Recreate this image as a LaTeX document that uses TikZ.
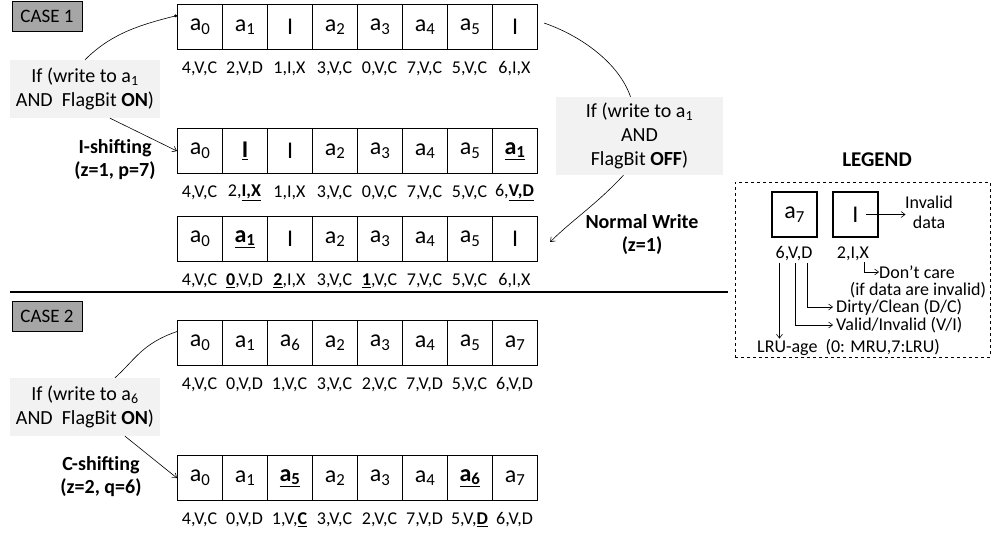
\documentclass[tikz,border=0pt]{standalone}
\usepackage{fontspec}
\setmainfont{Carlito}
\usetikzlibrary{arrows.meta,calc}
\newcommand\cellrow[3]{%
  \foreach \t [count=\i] in {#3} {
    \node[cell] (r#1c\i) at ({177+45*(\i-1)}, #2) {\t};
  }}
\newcommand\labrow[3]{%
  \foreach \t [count=\i] in {#3} {
    \node[lab] (l#1c\i) at ({199.5+45*(\i-1)}, #2) {\t};
  }}
\newcommand\ubf[1]{\underline{\textbf{#1}}}
\begin{document}
\begin{tikzpicture}[x=1pt,y=-1pt,
  cell/.style={draw, line width=1.1pt, minimum width=45pt, minimum height=45pt, inner sep=0pt,
    font=\fontsize{24}{24}\selectfont, anchor=north west},
  lab/.style={font=\fontsize{18}{20}\selectfont, inner sep=0pt},
  cond/.style={fill=black!5, align=center, font=\fontsize{20}{24}\selectfont, inner sep=0pt,
    minimum width=150pt, minimum height=58pt},
  bl/.style={font=\fontsize{20}{23}\selectfont\bfseries, align=center, inner sep=0pt},
  casebox/.style={draw, line width=0.8pt, fill=black!35, minimum width=70pt, minimum height=30pt,
    inner sep=0pt, font=\fontsize{19}{19}\selectfont},
  thinl/.style={line width=0.6pt},
  arr/.style={thinl, -{Straight Barb[length=4pt,width=6pt]}}
  ]
\useasboundingbox (0,0) rectangle (998,537);

% ---------- CASE 1 ----------
\node[casebox] (case1) at (47,16) {CASE 1};

\cellrow{1}{4}{{a\textsubscript{0}},{a\textsubscript{1}},I,{a\textsubscript{2}},{a\textsubscript{3}},{a\textsubscript{4}},{a\textsubscript{5}},I}
\labrow{1}{69}{{4,V,C},{2,V,D},{1,I,X},{3,V,C},{0,V,C},{7,V,C},{5,V,C},{6,I,X}}

\cellrow{2}{128}{{a\textsubscript{0}},{\ubf{I}},I,{a\textsubscript{2}},{a\textsubscript{3}},{a\textsubscript{4}},{a\textsubscript{5}},{\ubf{a\textsubscript{1}}}}
\labrow{2}{193}{{4,V,C},{2,\ubf{I,X}},{1,I,X},{3,V,C},{0,V,C},{7,V,C},{5,V,C},{6,\ubf{V,D}}}

\cellrow{3}{216}{{a\textsubscript{0}},{\ubf{a\textsubscript{1}}},I,{a\textsubscript{2}},{a\textsubscript{3}},{a\textsubscript{4}},{a\textsubscript{5}},I}
\labrow{3}{281}{{4,V,C},{\ubf{0},V,D},{\ubf{2},I,X},{3,V,C},{\ubf{1},V,C},{7,V,C},{5,V,C},{6,I,X}}

\node[cond] (cond1) at (85,89) {If (write to a\textsubscript{1}\\AND\ \ FlagBit \textbf{ON})};
\node[bl] (ishift) at (115,160) {I-shifting\\(z=1, p=7)};

\node[cond, minimum width=167pt, minimum height=78pt] (off) at (639.5,136)
  {If (write to a\textsubscript{1}\\AND\\FlagBit \textbf{OFF})};
\node[bl] (nwrite) at (642,234) {Normal Write\\(z=1)};

\draw[thinl, -{Circle[length=3pt]}] (cond1.north) .. controls +(25,-25) and +(-40,10) ..
  ($(r1c1.north west)!0.25!(r1c1.south west)$);
\draw[arr] ($(cond1.south)+(25,0)$) -- (r2c1.west);
\draw[thinl] ($(r1c8.east)+(6,-4)$) .. controls +(35,12) and +(-12,-35) .. ($(off.north)+(-9,0)$);
\draw[arr] ($(off.south)+(-16,0)$) .. controls +(-28,30) and +(22,-22) .. ($(r3c8.east)+(12,3)$);

% ---------- separator ----------
\draw[line width=1.6pt] (10,292) -- (728,292);

% ---------- CASE 2 ----------
\node[casebox] (case2) at (47,316) {CASE 2};

\cellrow{4}{320}{{a\textsubscript{0}},{a\textsubscript{1}},{a\textsubscript{6}},{a\textsubscript{2}},{a\textsubscript{3}},{a\textsubscript{4}},{a\textsubscript{5}},{a\textsubscript{7}}}
\labrow{4}{385}{{4,V,C},{0,V,D},{1,V,C},{3,V,C},{2,V,C},{7,V,D},{5,V,C},{6,V,D}}

\cellrow{5}{455}{{a\textsubscript{0}},{a\textsubscript{1}},{\ubf{a\textsubscript{5}}},{a\textsubscript{2}},{a\textsubscript{3}},{a\textsubscript{4}},{\ubf{a\textsubscript{6}}},{a\textsubscript{7}}}
\labrow{5}{520}{{4,V,C},{0,V,D},{1,V,\ubf{C}},{3,V,C},{2,V,C},{7,V,D},{5,V,\ubf{D}},{6,V,D}}

\node[cond] (cond2) at (85,407) {If (write to a\textsubscript{6}\\AND\ \ FlagBit \textbf{ON})};
\node[bl] (cshift) at (101,477) {C-shifting\\(z=2, q=6)};

\draw[thinl] ($(cond2.north)+(30,0)$) .. controls +(20,-18) and +(-35,12) ..
  ($(r4c1.north west)!0.25!(r4c1.south west)$);
\draw[arr] ($(cond2.south)+(40,0)$) -- (r5c1.west);

% ---------- LEGEND ----------
\node[font=\fontsize{21}{21}\selectfont\bfseries, inner sep=0pt] (legt) at (877,160) {LEGEND};
\node[draw, dashed, line width=0.8pt, minimum width=255pt, minimum height=175pt, inner sep=0pt] (legbox) at (862.5,269.5) {};
\node[cell, anchor=center] (la7) at (794.5,214.5) {a\textsubscript{7}};
\node[cell, anchor=center] (lI) at (855.5,214.5) {I};
\draw[arr] ($(lI.center)+(10,0)$) -- ($(lI.east)+(27,0)$);
\node[lab, align=center] (linv) at (929,212) {Invalid\\data};
\node[lab] (l6vd) at (794,254) {6,V,D};
\node[lab] (l2ix) at (853,254) {2,I,X};
\node[lab, anchor=west] (dcare) at (879,272) {Don’t care};
\node[lab] (ifd) at (918,290) {(if data are invalid)};
\node[lab, anchor=west] (dirty) at (836,307) {Dirty/Clean (D/C)};
\node[lab, anchor=west] (valid) at (836,325) {Valid/Invalid (V/I)};
\node[lab, anchor=west] (lru) at (757,347) {LRU-age\ \ (0: MRU,7:LRU)};
\draw[arr] ($(l2ix.south east)+(-5,1)$) |- (dcare.west);
\draw[arr] ($(l6vd.south east)+(-5,2)$) |- ($(dirty.west)+(-3,0)$);
\draw[arr] ($(l6vd.south)+(1,2)$) |- ($(valid.west)+(-3,0)$);
\coordinate (six) at ($(l6vd.south west)+(4,2)$);
\draw[arr] (six) -- (six |- lru.north);
\end{tikzpicture}
\end{document}
